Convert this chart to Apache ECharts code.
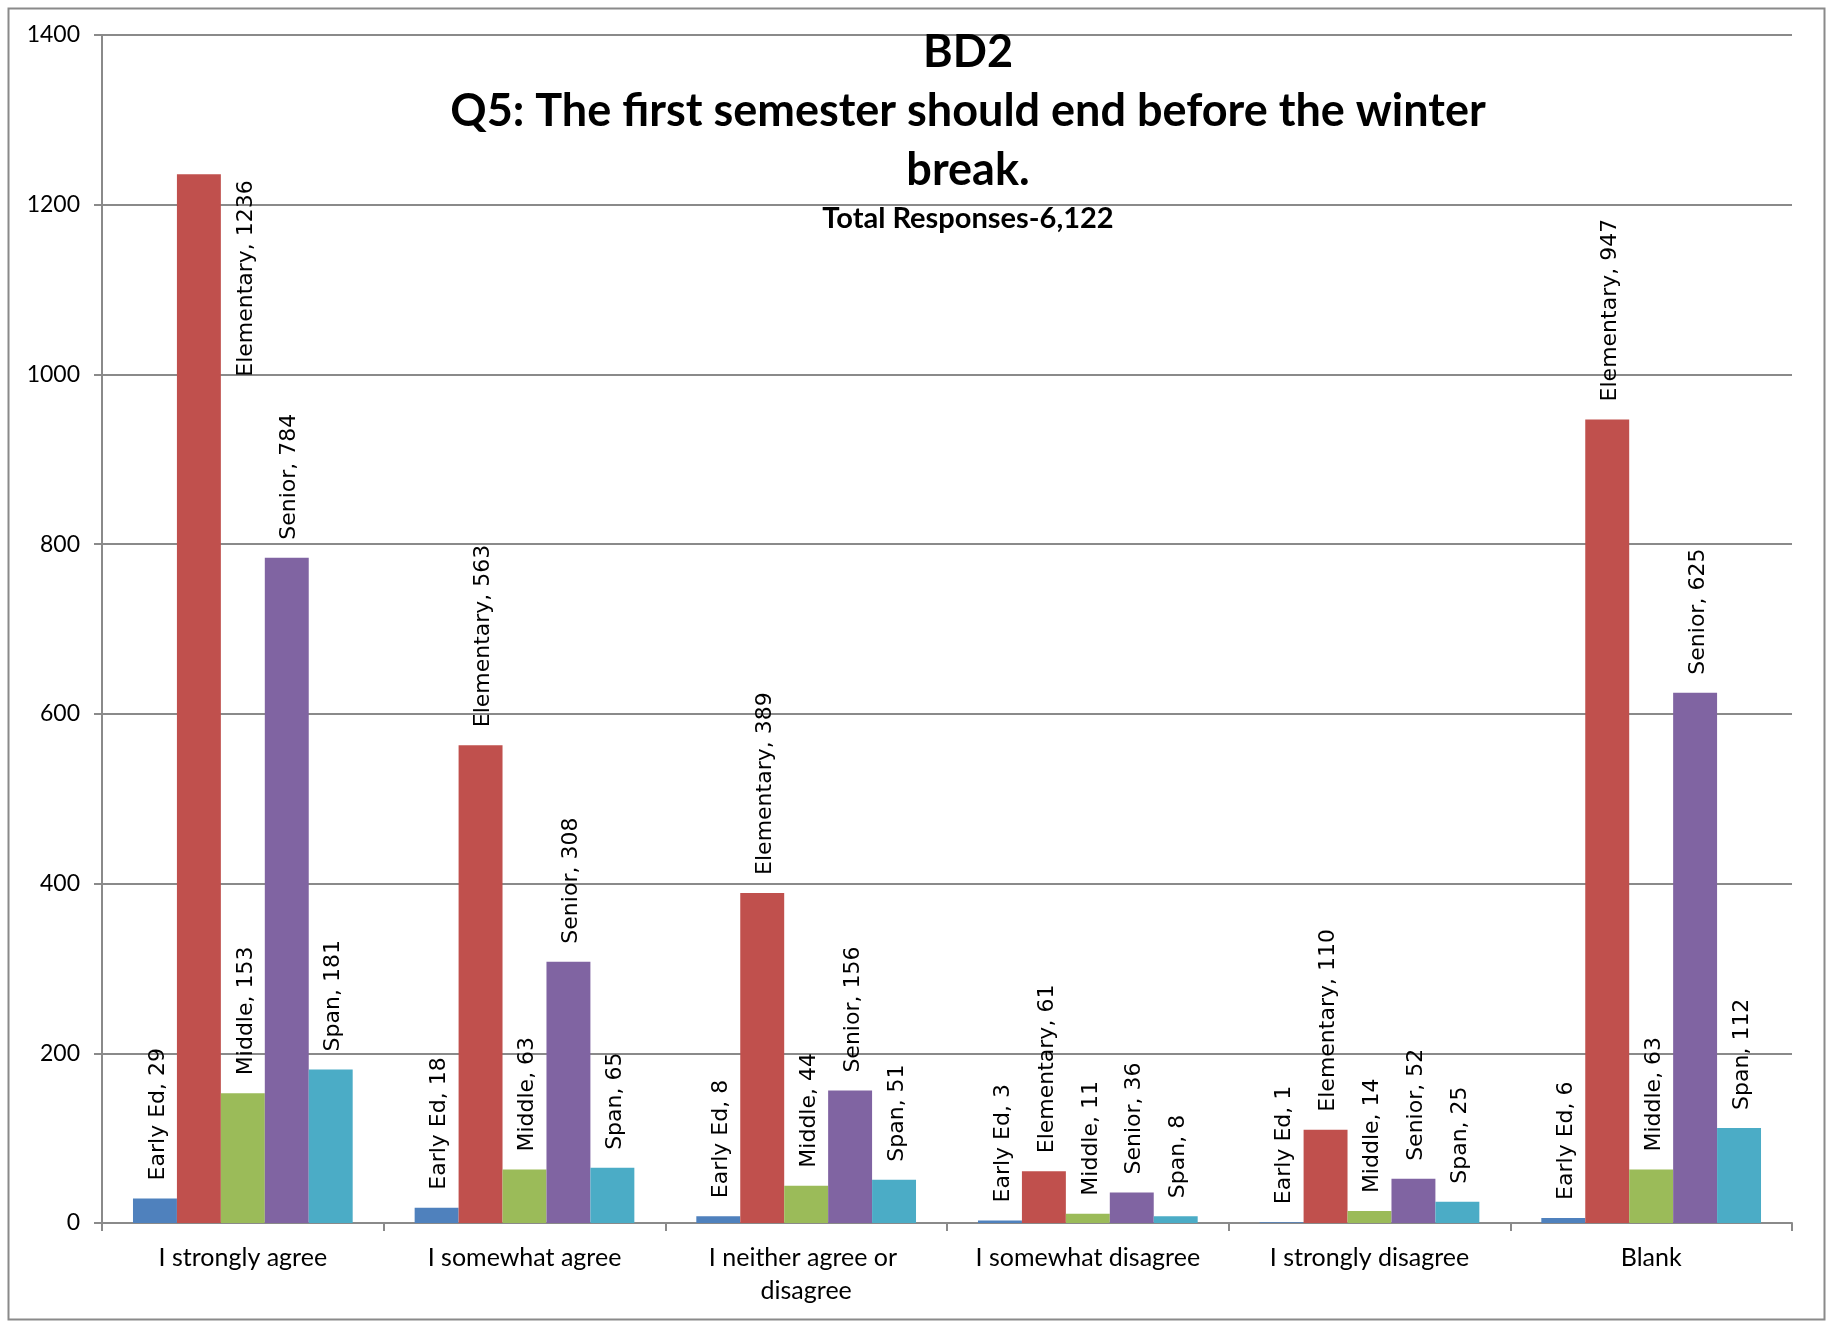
<!DOCTYPE html>
<html>
<head>
<meta charset="utf-8">
<title>BD2 Q5</title>
<script src="https://cdn.jsdelivr.net/npm/echarts@6/dist/echarts.min.js"></script>
<style>
  html, body { margin: 0; padding: 0; background: #ffffff; }
  #chart { width: 1826px; height: 1321px; }
</style>
</head>
<body>
<div id="chart"></div>
<script>
// Response categories along the x axis
const categories = [
  'I strongly agree',
  'I somewhat agree',
  'I neither agree or disagree',
  'I somewhat disagree',
  'I strongly disagree',
  'Blank'
];

// Responses per school level
const earlyEd    = [29, 18, 8, 3, 1, 6];
const elementary = [1236, 563, 389, 61, 110, 947];
const middle     = [153, 63, 44, 11, 14, 63];
const senior     = [784, 308, 156, 36, 52, 625];
const span       = [181, 65, 51, 8, 25, 112];

const seriesNames = ['Early Ed', 'Elementary', 'Middle', 'Senior', 'Span'];
const seriesData = [earlyEd, elementary, middle, senior, span];
const seriesColors = ['#4F81BD', '#C0504D', '#9BBB59', '#8064A2', '#4BACC6'];

// Y axis scale
const yMin = 0;
const yMax = 1400;
const yStep = 200;

const titleText = 'BD2\nQ5: The first semester should end before the winter\nbreak.';
const subtitleText = 'Total Responses-6,122';

const chart = echarts.init(document.getElementById('chart'), null, { renderer: 'canvas' });

const labelFont = 'DejaVu Sans';
const uiFont = 'Lato';

function buildSeries(name, values, color) {
  return {
    name: name,
    type: 'bar',
    barGap: '0%',
    barCategoryGap: '22%',
    itemStyle: { color: color },
    label: {
      show: true,
      position: 'top',
      distance: 18,
      rotate: 90,
      align: 'left',
      verticalAlign: 'middle',
      offset: [0, 3],
      formatter: '{a}, {c}',
      fontFamily: labelFont,
      fontSize: 22,
      color: '#000000'
    },
    data: values.map(function (v) {
      // a label that would leave the plot area is tucked beside its bar
      if (v > yMax - 200) {
        return {
          value: v,
          label: {
            position: ['150%', 6],
            align: 'right',
            verticalAlign: 'middle'
          }
        };
      }
      return v;
    })
  };
}

const option = {
  backgroundColor: '#ffffff',
  animation: false,
  title: {
    text: titleText,
    subtext: subtitleText,
    left: 963,
    top: 18,
    textAlign: 'center',
    itemGap: 2,
    textStyle: {
      fontFamily: uiFont,
      fontWeight: 'bold',
      fontSize: 45,
      lineHeight: 59,
      color: '#000000'
    },
    subtextStyle: {
      fontFamily: uiFont,
      fontWeight: 'bold',
      fontSize: 29,
      lineHeight: 34,
      color: '#000000'
    }
  },
  graphic: [{
    type: 'rect',
    left: 6,
    top: 6,
    shape: { width: 1816, height: 1311 },
    style: { fill: 'none', stroke: '#8a8a8a', lineWidth: 2 },
    silent: true,
    z: -1
  }],
  grid: {
    left: 102,
    right: 34,
    top: 35,
    bottom: 98,
    containLabel: false
  },
  xAxis: {
    type: 'category',
    data: categories,
    axisLine: { show: true, lineStyle: { color: '#8a8a8a', width: 2 } },
    axisTick: { show: true, length: 8, lineStyle: { color: '#8a8a8a', width: 2 } },
    axisLabel: {
      fontFamily: uiFont,
      fontSize: 25,
      lineHeight: 33,
      color: '#000000',
      margin: 18,
      width: 250,
      overflow: 'break',
      interval: 0
    }
  },
  yAxis: {
    type: 'value',
    min: yMin,
    max: yMax,
    interval: yStep,
    axisLine: { show: true, lineStyle: { color: '#8a8a8a', width: 2 } },
    axisTick: { show: true, length: 8, lineStyle: { color: '#8a8a8a', width: 2 } },
    axisLabel: {
      fontFamily: uiFont,
      fontSize: 23,
      color: '#000000',
      margin: 22,
      formatter: function (v) { return String(v); }
    },
    splitLine: { show: true, lineStyle: { color: '#8a8a8a', width: 2 } }
  },
  series: seriesNames.map(function (n, i) {
    return buildSeries(n, seriesData[i], seriesColors[i]);
  })
};

chart.setOption(option);
</script>
</body>
</html>
